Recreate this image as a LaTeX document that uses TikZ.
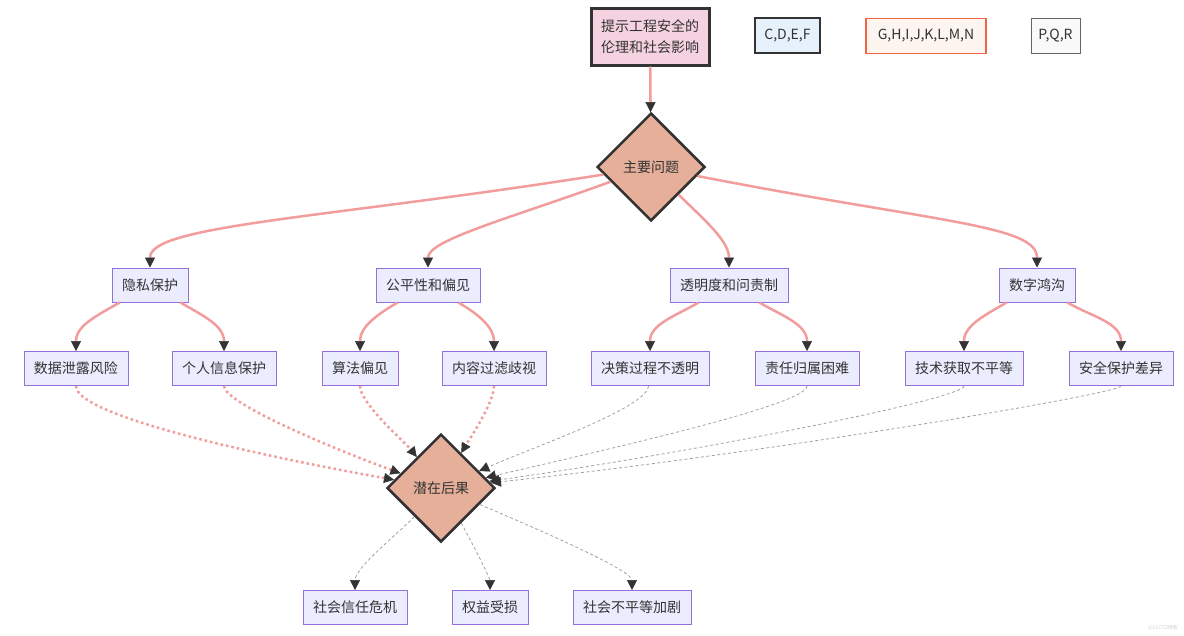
\documentclass[tikz,border=0pt]{standalone}
\usepackage{fontspec}
\setmainfont{Noto Sans CJK SC}
\usepackage{tikz}
\usetikzlibrary{arrows.meta,shapes.geometric}
\definecolor{boxfill}{HTML}{ECECFF}
\definecolor{boxline}{HTML}{9370DB}
\definecolor{txt}{HTML}{333333}
\definecolor{tipdark}{HTML}{333333}
\definecolor{flowpink}{HTML}{F29C9C}
\definecolor{grayflow}{HTML}{A0A0A0}
\definecolor{decfill}{HTML}{E5AF9A}
\definecolor{topfill}{HTML}{F5D2E0}
\definecolor{legblue}{HTML}{E6F1FB}
\definecolor{legorange}{HTML}{FDF5F0}
\definecolor{legred}{HTML}{EF6443}
\definecolor{leggray}{HTML}{F9F9F9}
\tikzset{
  x=1pt,y=1pt,
  every node/.style={text=txt,font=\fontsize{14}{16}\selectfont},
  box/.style={draw=boxline,fill=boxfill,line width=1pt,minimum height=34pt,inner xsep=10pt},
  decide/.style={diamond,draw=tipdark,fill=decfill,line width=2.5pt,aspect=1,
    minimum width=108pt,minimum height=108pt,inner sep=0pt},
  legend/.style={line width=1.5pt,minimum height=35pt},
  flow/.style={draw=flowpink,line width=2.5pt,
    -{Triangle[length=10pt,width=10pt,line width=0.5pt,color=tipdark]}},
  dotflow/.style={flow,dash pattern=on 2.5pt off 3pt},
  grayflow/.style={draw=grayflow,line width=0.8pt,dash pattern=on 3pt off 2.5pt,
    -{Triangle[length=10pt,width=10pt,line width=0.5pt,color=tipdark]}}
}

\begin{document}
\begin{tikzpicture}
  \useasboundingbox (0,0) rectangle (1184,-635);
  % header and legend
  \node[draw=tipdark,fill=topfill,line width=3pt,minimum width=118pt,minimum height=57pt,
    align=center,font=\fontsize{14}{21}\selectfont] (top) at (650,-36.5) {提示工程安全的\\伦理和社会影响};
  \node[legend,draw=tipdark,fill=legblue,minimum width=65pt] (legA) at (787.5,-35.5) {C,D,E,F};
  \node[legend,draw=legred,fill=legorange,minimum width=120pt] (legB) at (926,-36) {G,H,I,J,K,L,M,N};
  \node[legend,draw=black!60,line width=0.8pt,fill=leggray,minimum width=49pt] (legC) at (1055.5,-36) {P,Q,R};

  \node[decide] (mainq) at (651,-167) {主要问题};

  % topics
  \node[box] (privacy) at (150,-285) {隐私保护};
  \node[box] (fairness) at (428,-285) {公平性和偏见};
  \node[box] (transp) at (729,-285) {透明度和问责制};
  \node[box] (divide) at (1037,-285) {数字鸿沟};

  % issues
  \node[box] (leak) at (76,-368.5) {数据泄露风险};
  \node[box] (pinfo) at (224,-368.5) {个人信息保护};
  \node[box] (algo) at (360,-368.5) {算法偏见};
  \node[box] (filter) at (494,-368.5) {内容过滤歧视};
  \node[box] (opaque) at (650,-368.5) {决策过程不透明};
  \node[box] (resp) at (807,-368.5) {责任归属困难};
  \node[box] (access) at (964,-368.5) {技术获取不平等};
  \node[box] (secdiff) at (1121,-368.5) {安全保护差异};

  \node[decide] (conseq) at (441,-488) {潜在后果};

  % consequences
  \node[box] (trust) at (355,-607.5) {社会信任危机};
  \node[box] (rights) at (490,-607.5) {权益受损};
  \node[box] (inequal) at (632,-607.5) {社会不平等加剧};

  \node[text=black!18,font=\fontsize{5}{6}\selectfont] (mark) at (1163,-628) {@51CTO博客};

  \draw[flow] (top) -- (mainq);
  \draw[flow] (mainq) .. controls +(189:330) and +(90:60) .. (privacy);
  \draw[flow] (mainq) .. controls +(200:150) and +(90:45) .. (fairness);
  \draw[flow] (mainq) .. controls +(-45:70) and +(90:45) .. (transp);
  \draw[flow] (mainq) .. controls +(-11:290) and +(90:60) .. (divide);

  \draw[flow] (privacy) to[out=-150,in=90] (leak);
  \draw[flow] (privacy) to[out=-30,in=90] (pinfo);
  \draw[flow] (fairness) to[out=-150,in=90] (algo);
  \draw[flow] (fairness) to[out=-30,in=90] (filter);
  \draw[flow] (transp) to[out=-150,in=90] (opaque);
  \draw[flow] (transp) to[out=-30,in=90] (resp);
  \draw[flow] (divide) to[out=-150,in=90] (access);
  \draw[flow] (divide) to[out=-30,in=90] (secdiff);

  \draw[dotflow] (leak) .. controls +(-90:50) and +(170:150) .. (conseq);
  \draw[dotflow] (pinfo) .. controls +(-90:35) and +(160:110) .. (conseq);
  \draw[dotflow] (algo) .. controls +(-90:35) and +(128:55) .. (conseq);
  \draw[dotflow] (filter) .. controls +(-90:35) and +(60:50) .. (conseq);
  \draw[grayflow] (opaque) .. controls +(-95:40) and +(24:100) .. (conseq);
  \draw[grayflow] (resp) .. controls +(-90:35) and +(13:200) .. (conseq);
  \draw[grayflow] (access) .. controls +(-90:30) and +(8:260) .. (conseq);
  \draw[grayflow] (secdiff) .. controls +(-90:25) and +(6:320) .. (conseq);

  \draw[grayflow] (conseq) .. controls +(-133:60) and +(90:40) .. (trust);
  \draw[grayflow] (conseq) .. controls +(-60:50) and +(90:30) .. (rights);
  \draw[grayflow] (conseq) .. controls +(-23:150) and +(90:35) .. (inequal);
\end{tikzpicture}
\end{document}
